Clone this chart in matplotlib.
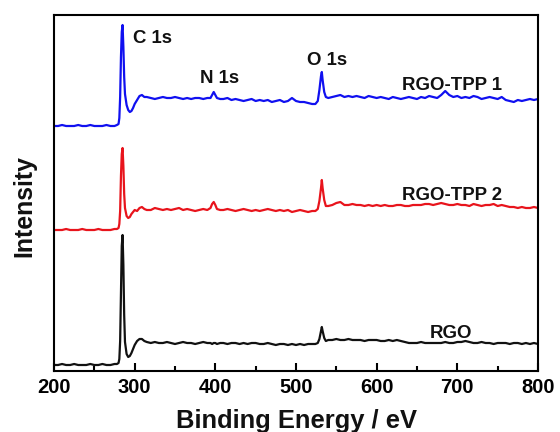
import matplotlib
matplotlib.use("Agg")
import matplotlib.pyplot as plt
from matplotlib.ticker import MultipleLocator

plt.rcParams['font.family'] = ['Liberation Sans', 'DejaVu Sans']

# Binding energy grid (eV), finer around the core-level peaks
energy = [
    200, 205, 210, 215, 220, 225, 230, 235, 240, 245, 250, 255, 260, 265, 270, 275,
    278, 280, 281, 282, 283, 284, 285, 286, 287, 288, 290, 292, 294, 296, 298, 300,
    303, 306, 309, 312, 315,
    320, 325, 330, 335, 340, 345, 350, 355, 360, 365, 370, 375, 380, 385, 390,
    394, 396, 398, 400, 402, 406,
    410, 415, 420, 425, 430, 435, 440, 445, 450, 455, 460, 465, 470, 475, 480,
    485, 490, 495, 500, 505, 510, 515, 520,
    524, 527, 529, 531, 532, 533, 535, 537, 540,
    545, 550, 555, 560, 565, 570, 575, 580, 585, 590, 595, 600, 605, 610, 615,
    620, 625, 630, 635, 640, 645, 650, 655, 660, 665, 670, 675, 680, 685, 690,
    695, 700, 705, 710, 715, 720, 725, 730, 735, 740, 745, 750, 755, 760, 765,
    770, 775, 780, 785, 790, 795, 800,
]

# Survey intensities (a.u.)
rgo = [
    6, 6, 7, 6, 6, 7, 6, 6, 6, 7, 6, 6, 7, 6, 6, 7,
    7, 8, 12, 30, 80, 125, 136, 106, 56, 29, 17, 14, 15, 18, 22, 26,
    30, 32, 32, 30, 29,
    28, 29, 28, 28, 29, 28, 27, 28, 29, 28, 28, 27, 28, 29, 28,
    28, 27, 28, 28, 27, 28,
    28, 27, 28, 28, 27, 28, 27, 28, 28, 27, 27, 28, 27, 26, 27,
    27, 26, 27, 26, 27, 26, 27, 27,
    27, 28, 32, 40, 44, 40, 33, 30, 31,
    31, 32, 31, 31, 32, 31, 31, 31, 30, 31, 31, 31, 30, 30, 31,
    30, 31, 30, 29, 28, 28, 28, 29, 28, 28, 28, 28, 28, 29, 28,
    28, 29, 29, 30, 29, 28, 28, 29, 28, 28, 27, 28, 28, 28, 27,
    28, 28, 27, 28, 27, 28, 27,
]

rgo_tpp2 = [
    6, 6, 6, 7, 6, 6, 6, 7, 6, 6, 6, 7, 6, 6, 6, 7,
    7, 8, 12, 25, 60, 82, 88, 70, 42, 28, 20, 18, 19, 22, 24, 26,
    25, 28, 29, 27, 26,
    26, 28, 27, 26, 27, 26, 27, 28, 26, 27, 26, 25, 26, 27, 26,
    28, 32, 34, 31, 27, 26,
    26, 27, 26, 25, 26, 27, 26, 25, 26, 25, 26, 27, 26, 25, 26,
    25, 26, 24, 25, 26, 25, 24, 25,
    25, 27, 35, 48, 56, 48, 36, 30, 30,
    31, 33, 34, 31, 31, 32, 31, 31, 30, 31, 30, 31, 30, 31, 30,
    30, 31, 31, 30, 30, 31, 31, 31, 32, 32, 31, 32, 33, 32, 31,
    31, 32, 31, 31, 30, 32, 31, 30, 31, 31, 32, 30, 31, 30, 29,
    29, 28, 29, 28, 28, 29, 28,
]

rgo_tpp1 = [
    6, 6, 7, 6, 6, 6, 7, 6, 6, 7, 6, 6, 6, 7, 6, 6,
    7, 8, 14, 35, 75, 100, 107, 85, 55, 38, 27, 22, 20, 21, 24, 28,
    32, 36, 37, 35, 35,
    34, 33, 34, 35, 34, 34, 35, 34, 33, 34, 33, 34, 34, 33, 34,
    34, 37, 40, 37, 34, 33,
    33, 34, 32, 33, 32, 31, 32, 33, 31, 32, 31, 32, 30, 31, 32,
    30, 31, 34, 31, 30, 30, 29, 28,
    28, 31, 42, 56, 60, 52, 40, 35, 34,
    35, 36, 37, 35, 36, 35, 36, 35, 34, 36, 35, 34, 35, 34, 33,
    35, 34, 33, 34, 35, 34, 33, 35, 34, 36, 35, 34, 37, 41, 37,
    35, 36, 34, 35, 34, 36, 35, 33, 34, 35, 34, 33, 35, 32, 31,
    30, 32, 31, 32, 33, 32, 33,
]

series = [
    ("RGO", rgo, 0, "#111111"),
    ("RGO-TPP 2", rgo_tpp2, 135, "#e8141c"),
    ("RGO-TPP 1", rgo_tpp1, 239, "#1010f0"),
]

fig = plt.figure(figsize=(5.6, 4.32), dpi=100)
ax = fig.add_axes([54 / 560, 61 / 432, 484 / 560, 356 / 432])

for name, vals, offset, color in series:
    ax.plot(energy, [v + offset for v in vals], color=color, lw=1.6)

ax.set_xlim(200, 800)
ax.set_ylim(0, 356)
ax.xaxis.set_major_locator(MultipleLocator(100))
ax.xaxis.set_minor_locator(MultipleLocator(50))
ax.tick_params(axis='x', which='major', direction='in', length=6, width=1.5,
               labelsize=14.5, pad=5)
ax.tick_params(axis='x', which='minor', direction='in', length=3.5, width=1.5)
ax.set_yticks([])
for lbl in ax.get_xticklabels():
    lbl.set_fontweight('bold')
for sp in ax.spines.values():
    sp.set_linewidth(1.5)

lab = dict(fontsize=13.4, fontweight='bold', ha='left', va='baseline', color='#111111')
ax.text(298, 328, "C 1s", **lab)
ax.text(381, 288, "N 1s", **lab)
ax.text(513.6, 306, "O 1s", **lab)
ax.text(631.4, 281, "RGO-TPP 1", **lab)
ax.text(631.4, 171, "RGO-TPP 2", **lab)
ax.text(666, 33, "RGO", **lab)

fig.text(296 / 560, 4 / 432, "Binding Energy / eV", fontsize=18.4,
         fontweight='bold', ha='center', va='baseline', color='#111111')
fig.text(24.5 / 560, 1 - 206 / 432, "Intensity", fontsize=17.9,
         fontweight='bold', ha='center', va='center', rotation=90, color='#111111')

fig.savefig("out.png", dpi=100)
